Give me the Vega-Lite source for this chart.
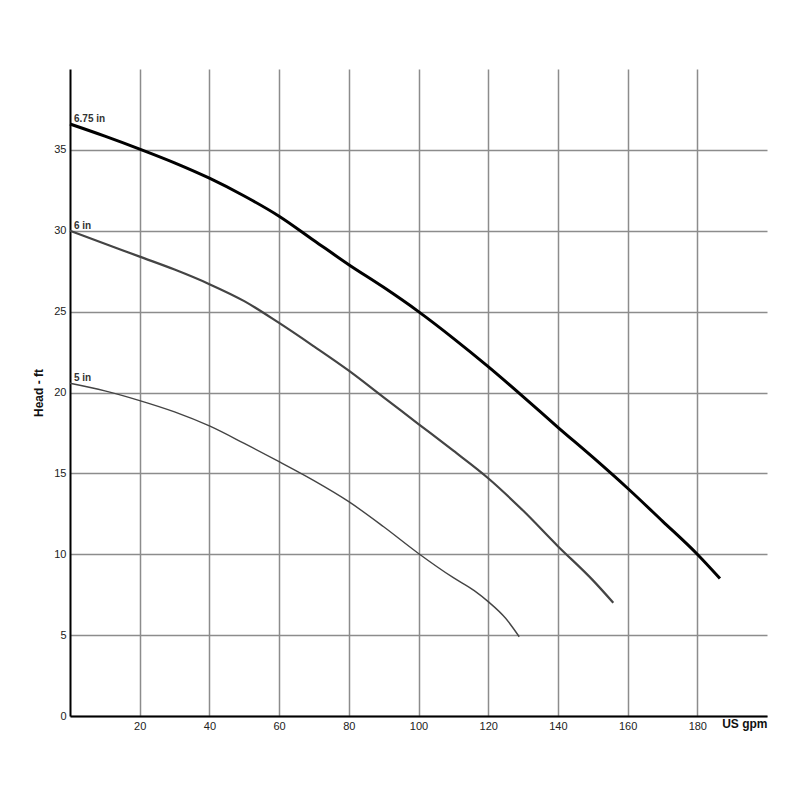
{
  "$schema": "https://vega.github.io/schema/vega-lite/v6.json",
  "width": 697,
  "height": 647,
  "autosize": {"type": "none"},
  "padding": {"left": 70, "top": 69, "right": 33, "bottom": 84},
  "background": "white",
  "datasets": {
    "curves": [
      {"gpm": 0, "head": 36.6, "impeller": "6.75 in"},
      {"gpm": 10, "head": 35.85, "impeller": "6.75 in"},
      {"gpm": 20, "head": 35.05, "impeller": "6.75 in"},
      {"gpm": 30, "head": 34.2, "impeller": "6.75 in"},
      {"gpm": 40, "head": 33.25, "impeller": "6.75 in"},
      {"gpm": 50, "head": 32.15, "impeller": "6.75 in"},
      {"gpm": 60, "head": 30.9, "impeller": "6.75 in"},
      {"gpm": 70, "head": 29.4, "impeller": "6.75 in"},
      {"gpm": 80, "head": 27.9, "impeller": "6.75 in"},
      {"gpm": 90, "head": 26.5, "impeller": "6.75 in"},
      {"gpm": 100, "head": 25.0, "impeller": "6.75 in"},
      {"gpm": 110, "head": 23.35, "impeller": "6.75 in"},
      {"gpm": 120, "head": 21.6, "impeller": "6.75 in"},
      {"gpm": 130, "head": 19.75, "impeller": "6.75 in"},
      {"gpm": 140, "head": 17.85, "impeller": "6.75 in"},
      {"gpm": 150, "head": 16.0, "impeller": "6.75 in"},
      {"gpm": 160, "head": 14.08, "impeller": "6.75 in"},
      {"gpm": 170, "head": 12.05, "impeller": "6.75 in"},
      {"gpm": 180, "head": 10.0, "impeller": "6.75 in"},
      {"gpm": 186.5, "head": 8.5, "impeller": "6.75 in"},
      {"gpm": 0, "head": 30.0, "impeller": "6 in"},
      {"gpm": 10, "head": 29.2, "impeller": "6 in"},
      {"gpm": 20, "head": 28.4, "impeller": "6 in"},
      {"gpm": 30, "head": 27.6, "impeller": "6 in"},
      {"gpm": 40, "head": 26.7, "impeller": "6 in"},
      {"gpm": 50, "head": 25.65, "impeller": "6 in"},
      {"gpm": 60, "head": 24.3, "impeller": "6 in"},
      {"gpm": 70, "head": 22.85, "impeller": "6 in"},
      {"gpm": 80, "head": 21.35, "impeller": "6 in"},
      {"gpm": 90, "head": 19.7, "impeller": "6 in"},
      {"gpm": 100, "head": 18.05, "impeller": "6 in"},
      {"gpm": 110, "head": 16.4, "impeller": "6 in"},
      {"gpm": 120, "head": 14.7, "impeller": "6 in"},
      {"gpm": 130, "head": 12.7, "impeller": "6 in"},
      {"gpm": 140, "head": 10.5, "impeller": "6 in"},
      {"gpm": 150, "head": 8.4, "impeller": "6 in"},
      {"gpm": 155.9, "head": 7.0, "impeller": "6 in"},
      {"gpm": 0, "head": 20.57, "impeller": "5 in"},
      {"gpm": 10, "head": 20.1, "impeller": "5 in"},
      {"gpm": 20, "head": 19.5, "impeller": "5 in"},
      {"gpm": 30, "head": 18.8, "impeller": "5 in"},
      {"gpm": 40, "head": 17.93, "impeller": "5 in"},
      {"gpm": 50, "head": 16.85, "impeller": "5 in"},
      {"gpm": 60, "head": 15.72, "impeller": "5 in"},
      {"gpm": 70, "head": 14.55, "impeller": "5 in"},
      {"gpm": 80, "head": 13.25, "impeller": "5 in"},
      {"gpm": 90, "head": 11.7, "impeller": "5 in"},
      {"gpm": 100, "head": 10.05, "impeller": "5 in"},
      {"gpm": 110, "head": 8.55, "impeller": "5 in"},
      {"gpm": 116, "head": 7.75, "impeller": "5 in"},
      {"gpm": 120, "head": 7.07, "impeller": "5 in"},
      {"gpm": 125, "head": 6.04, "impeller": "5 in"},
      {"gpm": 128.9, "head": 4.9, "impeller": "5 in"}
    ],
    "labels": [
      {"gpm": 0, "head": 36.6, "impeller": "6.75 in"},
      {"gpm": 0, "head": 30.0, "impeller": "6 in"},
      {"gpm": 0, "head": 20.57, "impeller": "5 in"}
    ]
  },
  "layer": [
    {
      "data": {"name": "curves"},
      "mark": {"type": "line", "interpolate": "monotone", "strokeCap": "butt"},
      "encoding": {
        "x": {
          "field": "gpm",
          "type": "quantitative",
          "scale": {"domain": [0, 200], "nice": false},
          "axis": {
            "values": [20, 40, 60, 80, 100, 120, 140, 160, 180],
            "title": "US gpm",
            "titleAnchor": "end",
            "titleAlign": "right",
            "titleBaseline": "middle",
            "titleX": 697,
            "titleY": 7,
            "titleFont": "Liberation Sans",
            "titleFontSize": 12,
            "titleFontWeight": "bold",
            "titleColor": "#111"
          }
        },
        "y": {
          "field": "head",
          "type": "quantitative",
          "scale": {"domain": [0, 40], "nice": false},
          "axis": {
            "values": [0, 5, 10, 15, 20, 25, 30, 35],
            "title": "Head - ft",
            "titlePadding": 8,
            "titleFont": "Liberation Sans",
            "titleFontSize": 12,
            "titleFontWeight": "bold",
            "titleColor": "#111"
          }
        },
        "color": {
          "field": "impeller",
          "type": "nominal",
          "scale": {"domain": ["6.75 in", "6 in", "5 in"], "range": ["#000000", "#444444", "#444444"]},
          "legend": null
        },
        "strokeWidth": {
          "field": "impeller",
          "type": "nominal",
          "scale": {"domain": ["6.75 in", "6 in", "5 in"], "range": [3, 1.4, 1.4]},
          "legend": null
        }
      }
    },
    {
      "data": {"name": "labels"},
      "mark": {
        "type": "text",
        "align": "left",
        "baseline": "bottom",
        "dx": 4,
        "dy": 0,
        "font": "Liberation Sans",
        "fontSize": 10,
        "fontWeight": "bold",
        "color": "#333"
      },
      "encoding": {
        "x": {"field": "gpm", "type": "quantitative"},
        "y": {"field": "head", "type": "quantitative"},
        "text": {"field": "impeller"}
      }
    }
  ],
  "config": {
    "view": {"stroke": null},
    "axis": {
      "grid": true,
      "gridColor": "#8c8c8c",
      "gridWidth": 1.5,
      "gridOpacity": 1,
      "domainColor": "#000",
      "domainWidth": 2,
      "ticks": false,
      "labelPadding": 4,
      "labelFont": "Liberation Sans",
      "labelFontSize": 11,
      "labelColor": "#222"
    }
  }
}
